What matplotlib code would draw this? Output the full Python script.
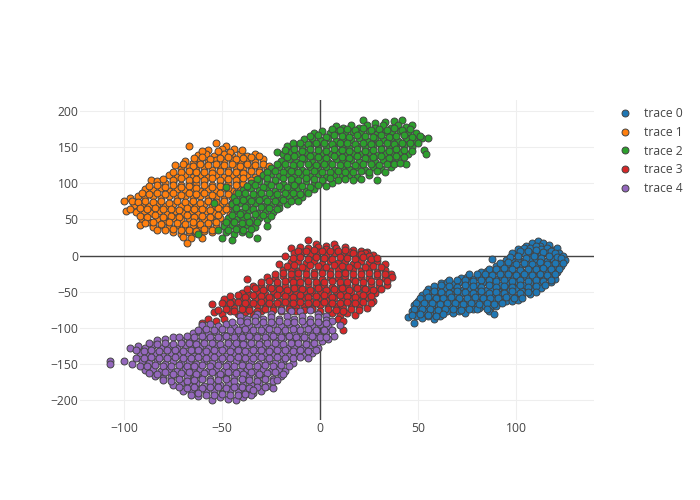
import numpy as np
import matplotlib
matplotlib.use("Agg")
import matplotlib.pyplot as plt

plt.rcParams['font.family'] = ['Open Sans', 'DejaVu Sans']

labels = ["trace 0", "trace 1", "trace 2", "trace 3", "trace 4"]
colors = ["#1f77b4", "#ff7f0e", "#2ca02c", "#d62728", "#9467bd"]
x_ticks = [-100, -50, 0, 50, 100]
y_ticks = [-200, -150, -100, -50, 0, 50, 100, 150, 200]

trace0 = [
    (108,17),(111,20),(114,18),(117,15),(105,14),(112,14),
    (101,9),(104,10),(107,11),(110,13),(113,9),(116,11),(119,8),(121,10),
    (98,3),(101,1),(104,4),(107,2),(110,5),(113,1),(116,3),(119,1),(122,4),(124,0),
    (88,-4),(95,-6),(98,-8),(101,-5),(104,-7),(107,-4),(110,-8),(113,-5),(116,-7),(119,-5),(122,-7),(125,-6),
    (90,-14),(93,-12),(96,-15),(99,-13),(102,-16),(105,-12),(108,-15),(111,-13),(114,-16),(117,-13),(120,-15),(123,-14),
    (82,-23),(85,-21),(88,-24),(91,-21),(94,-23),(97,-20),(100,-24),(103,-22),(106,-25),(109,-21),(112,-24),(115,-22),(118,-24),(121,-22),
    (72,-31),(75,-29),(78,-32),(81,-29),(84,-31),(87,-28),(90,-32),(93,-30),(96,-33),(99,-29),(102,-32),(105,-30),(108,-33),(111,-29),(114,-32),(117,-30),(120,-32),
    (62,-38),(65,-36),(68,-39),(71,-36),(74,-39),(77,-37),(80,-40),(83,-36),(86,-39),(89,-37),(92,-40),(95,-38),(98,-41),(101,-37),(104,-40),(107,-38),(110,-41),(113,-38),(118,-37),
    (55,-46),(58,-44),(61,-47),(64,-44),(67,-47),(70,-45),(73,-48),(76,-44),(79,-47),(82,-45),(85,-48),(88,-46),(91,-49),(94,-45),(97,-48),(100,-46),(103,-49),(106,-46),(109,-48),(113,-45),
    (52,-54),(55,-52),(58,-55),(61,-52),(64,-55),(67,-53),(70,-56),(73,-52),(76,-55),(79,-53),(82,-56),(85,-54),(88,-57),(91,-53),(94,-56),(97,-54),(100,-57),(103,-54),(107,-53),
    (50,-62),(53,-60),(56,-63),(59,-60),(62,-63),(65,-61),(68,-64),(71,-60),(74,-63),(77,-61),(80,-64),(83,-62),(86,-65),(89,-61),(92,-64),(95,-62),(98,-63),(101,-61),
    (48,-68),(51,-70),(54,-68),(57,-71),(60,-68),(63,-71),(66,-69),(69,-72),(72,-68),(75,-71),(78,-69),(81,-72),(84,-70),(87,-72),(90,-69),
    (47,-77),(50,-79),(53,-76),(56,-79),(59,-77),(62,-80),(65,-77),(68,-79),(71,-76),(74,-79),(78,-73),(80,-74),(86,-77),(89,-80),
    (45,-85),(49,-84),(52,-86),(55,-83),(58,-88),(61,-84),(48,-93),
    # second pass, filling the gaps between the first rows
    (102,6),(106,7),(110,8),(114,5),(118,6),(120,4),
    (97,-2),(101,-1),(105,-3),(109,-1),(113,-3),(117,-1),(121,-2),(123,-3),
    (92,-10),(96,-9),(100,-11),(104,-10),(108,-11),(112,-9),(116,-11),(120,-10),(124,-10),
    (86,-18),(90,-19),(94,-17),(98,-18),(102,-20),(106,-18),(110,-19),(114,-17),(118,-19),(122,-18),
    (76,-26),(80,-25),(84,-26),(88,-27),(92,-25),(96,-26),(100,-27),(104,-25),(108,-27),(112,-26),(116,-27),(120,-26),
    (66,-34),(70,-33),(74,-34),(78,-35),(82,-33),(86,-34),(90,-35),(94,-33),(98,-35),(102,-34),(106,-35),(110,-33),(114,-35),(118,-34),
    (58,-42),(62,-41),(66,-42),(70,-43),(74,-41),(78,-42),(82,-43),(86,-41),(90,-43),(94,-42),(98,-43),(102,-41),(106,-43),(110,-42),(115,-41),
    (54,-50),(58,-49),(62,-50),(66,-51),(70,-49),(74,-50),(78,-51),(82,-49),(86,-51),(90,-50),(94,-51),(98,-49),(102,-51),(106,-50),(110,-50),
    (51,-58),(55,-57),(59,-58),(63,-59),(67,-57),(71,-58),(75,-59),(79,-57),(83,-59),(87,-58),(91,-59),(95,-57),(99,-59),(103,-58),
    (49,-66),(53,-65),(57,-66),(61,-67),(65,-65),(69,-66),(73,-67),(77,-65),(81,-67),(85,-66),(89,-67),(93,-65),
    (48,-74),(52,-73),(56,-74),(60,-75),(64,-73),(68,-74),(72,-75),(76,-74),(85,-74),
    (47,-82),(51,-81),(55,-82),(59,-83),(63,-81),
]

trace1 = [
    (-53,155),(-48,152),(-67,151),(-50,147),(-44,148),(-57,146),
    (-62,139),(-58,141),(-54,138),(-49,141),(-45,138),(-41,141),(-37,138),(-33,141),
    (-69,131),(-65,128),(-61,132),(-57,129),(-53,132),(-49,129),(-45,132),(-41,128),(-37,131),(-33,129),(-29,133),
    (-74,125),(-71,120),(-67,122),(-63,119),(-59,122),(-55,119),(-51,122),(-47,119),(-43,123),(-39,120),(-35,122),(-31,119),(-27,121),(-24,118),
    (-77,111),(-73,109),(-69,112),(-65,108),(-61,111),(-57,109),(-53,112),(-49,108),(-45,111),(-41,109),(-37,112),(-33,108),(-29,111),
    (-86,104),(-83,103),(-79,100),(-75,102),(-71,98),(-67,101),(-63,99),(-59,102),(-55,98),(-51,101),(-47,99),(-43,102),(-39,99),(-35,101),
    (-89,92),(-85,90),(-81,93),(-77,89),(-73,92),(-69,90),(-65,93),(-61,89),(-57,92),(-53,90),(-49,93),(-45,89),(-41,91),
    (-97,79),(-93,82),(-89,79),(-85,82),(-81,79),(-77,82),(-73,79),(-69,83),(-65,80),(-61,82),(-57,79),(-53,81),(-49,78),(-45,81),
    (-100,76),(-99,62),(-95,70),(-91,72),(-87,69),(-83,72),(-79,68),(-75,71),(-71,69),(-67,72),(-63,68),(-59,71),(-55,69),(-51,72),(-47,68),(-43,70),
    (-94,60),(-90,62),(-86,59),(-82,62),(-78,58),(-74,61),(-70,59),(-66,62),(-62,58),(-58,61),(-54,59),(-50,62),(-46,58),
    (-91,50),(-87,47),(-83,51),(-79,48),(-75,52),(-71,49),(-67,52),(-63,48),(-59,51),(-55,49),(-51,52),(-47,48),
    (-92,42),(-85,40),(-81,43),(-77,39),(-73,42),(-69,40),(-65,43),(-61,39),(-57,42),(-53,40),
    (-75,32),(-71,30),(-67,33),(-63,31),(-59,34),(-55,32),(-70,26),(-66,24),(-68,18),(-60,25),
    # second pass
    (-60,145),(-52,144),(-46,143),(-40,146),
    (-64,135),(-60,136),(-56,134),(-51,135),(-47,136),(-43,134),(-39,135),(-35,136),(-31,137),
    (-70,126),(-65,124),(-61,126),(-57,125),(-53,127),(-49,125),(-45,126),(-41,124),(-37,126),(-33,125),(-29,126),(-26,124),
    (-75,116),(-71,115),(-67,117),(-63,115),(-59,116),(-55,114),(-51,117),(-47,115),(-43,116),(-39,114),(-35,117),(-31,115),(-27,116),
    (-80,106),(-75,105),(-71,107),(-67,105),(-63,106),(-59,104),(-55,107),(-51,105),(-47,106),(-43,104),(-39,107),(-35,105),(-31,106),
    (-87,96),(-83,97),(-79,95),(-75,97),(-71,95),(-67,96),(-63,94),(-59,97),(-55,95),(-51,96),(-47,94),(-43,97),(-37,95),
    (-91,86),(-87,85),(-83,87),(-79,85),(-75,86),(-71,84),(-67,87),(-63,85),(-59,86),(-55,84),(-51,87),(-47,85),(-43,86),
    (-96,75),(-93,74),(-89,76),(-85,74),(-81,75),(-77,73),(-73,76),(-69,74),(-65,75),(-61,73),(-57,76),(-53,74),(-49,75),(-45,73),
    (-97,65),(-92,66),(-88,64),(-84,66),(-80,64),(-76,65),(-72,63),(-68,66),(-64,64),(-60,65),(-56,63),(-52,66),(-48,64),
    (-92,55),(-88,54),(-84,56),(-80,54),(-76,55),(-72,53),(-68,56),(-64,54),(-60,55),(-56,53),(-52,56),
    (-89,45),(-85,46),(-81,44),(-77,46),(-73,45),(-69,44),(-65,46),(-61,44),(-57,45),(-53,46),(-49,44),
    (-83,36),(-79,35),(-75,37),(-71,35),(-67,36),(-63,34),(-59,37),(-55,35),
]

trace2 = [
    (22,188),(38,186),(42,187),(33,185),(28,183),
    (8,179),(12,176),(16,180),(20,177),(24,181),(28,177),(32,180),(36,177),(40,181),(44,178),(47,180),
    (-3,170),(1,172),(5,169),(9,172),(13,168),(17,171),(21,169),(25,172),(29,168),(33,171),(37,169),(41,172),(45,168),(49,170),
    (-8,161),(-4,163),(0,160),(4,163),(8,159),(12,162),(16,160),(20,163),(24,159),(28,162),(32,160),(36,163),(40,159),(44,162),(48,160),(52,162),(55,163),
    (-17,151),(-13,153),(-9,150),(-5,153),(-1,149),(3,152),(7,150),(11,153),(15,149),(19,152),(23,150),(27,153),(31,149),(35,152),(39,150),(43,153),(47,150),
    (-22,143),(-19,140),(-15,143),(-11,140),(-7,143),(-3,139),(1,142),(5,140),(9,143),(13,139),(17,142),(21,140),(25,143),(29,139),(33,142),(37,140),(41,143),(45,140),(53,146),(54,140),
    (-20,131),(-16,133),(-12,130),(-8,133),(-4,129),(0,132),(4,130),(8,133),(12,129),(16,132),(20,130),(24,133),(28,129),(32,132),(36,130),(40,133),(44,126),
    (-25,121),(-21,123),(-17,120),(-13,123),(-9,119),(-5,122),(-1,120),(3,123),(7,119),(11,122),(15,120),(19,123),(23,119),(27,122),(31,120),(36,123),
    (-29,111),(-25,113),(-21,110),(-17,113),(-13,109),(-9,112),(-5,110),(-1,113),(3,109),(7,112),(11,110),(15,112),(19,108),(25,111),(29,105),
    (-35,101),(-31,103),(-27,100),(-23,103),(-19,99),(-15,102),(-11,100),(-7,103),(-3,99),(1,102),(6,101),(-48,95),
    (-39,91),(-35,93),(-31,90),(-27,93),(-23,89),(-19,92),(-15,90),(-11,93),(-7,89),(-3,92),
    (-44,81),(-40,83),(-36,80),(-32,83),(-28,79),(-24,82),(-20,80),(-16,83),(-12,79),(-9,81),
    (-45,71),(-41,73),(-37,70),(-33,73),(-29,69),(-25,72),(-21,70),(-17,72),(-54,73),
    (-44,62),(-40,60),(-36,63),(-32,59),(-28,62),(-24,60),(-21,66),
    (-47,52),(-43,50),(-39,53),(-35,49),(-31,52),(-27,50),
    (-49,41),(-45,43),(-41,40),(-37,43),(-33,40),(-27,41),(-52,35),
    (-48,32),(-44,30),(-40,33),(-36,30),(-50,24),(-45,22),(-32,25),(-62,30),
    # second pass
    (6,175),(10,174),(14,175),(18,173),(22,176),(26,174),(30,175),(34,173),(38,176),(42,174),(46,175),
    (-5,165),(-1,166),(3,164),(7,166),(11,165),(15,164),(19,166),(23,165),(27,164),(31,166),(35,164),(39,165),(43,166),(47,164),(51,165),
    (-14,155),(-10,156),(-6,154),(-2,156),(2,155),(6,154),(10,156),(14,155),(18,154),(22,156),(26,154),(30,155),(34,156),(38,154),(42,156),(46,155),(50,155),
    (-18,146),(-13,147),(-9,145),(-5,147),(-1,146),(3,145),(7,147),(11,146),(15,145),(19,147),(23,145),(27,146),(31,147),(35,145),(39,147),(43,146),(47,145),
    (-17,136),(-13,137),(-9,135),(-5,137),(-1,136),(3,135),(7,137),(11,136),(15,135),(19,137),(23,135),(27,136),(31,137),(35,135),(39,137),(43,136),
    (-22,126),(-18,127),(-14,125),(-10,127),(-6,126),(-2,125),(2,127),(6,126),(10,125),(14,127),(18,125),(22,126),(26,127),(30,125),(34,127),(38,126),(41,128),
    (-27,116),(-23,117),(-19,115),(-15,117),(-11,116),(-7,115),(-3,117),(1,116),(5,115),(9,117),(13,115),(17,116),(21,117),(25,115),(29,117),(33,116),
    (-32,106),(-27,107),(-23,105),(-19,107),(-15,106),(-11,105),(-7,107),(-3,106),(1,105),(5,107),(9,105),(13,106),(17,105),(21,106),
    (-37,96),(-33,97),(-29,95),(-25,97),(-21,96),(-17,95),(-13,97),(-9,96),(-5,95),(-1,97),(3,96),
    (-42,86),(-38,87),(-34,85),(-30,87),(-26,86),(-22,85),(-18,87),(-14,86),(-10,85),(-6,87),
    (-43,76),(-39,77),(-35,75),(-31,77),(-27,76),(-23,75),(-19,77),(-15,76),(-11,75),
    (-43,66),(-38,67),(-34,65),(-30,67),(-26,66),(-22,65),
    (-45,56),(-41,57),(-37,55),(-33,57),(-29,56),(-25,55),
    (-48,46),(-44,47),(-40,45),(-36,47),(-32,46),
    (-47,36),(-43,37),(-39,35),(-35,37),
]

trace3 = [
    (-6,21),(3,14),(-2,16),(7,16),(-10,12),(-15,10),(-6,10),(-1,12),(3,9),(8,11),(13,12),(17,8),(21,7),(24,5),
    (-13,3),(-9,5),(-5,2),(-1,5),(3,1),(7,4),(11,2),(15,5),(19,1),(23,3),(27,1),(-18,-1),
    (-15,-9),(-11,-7),(-7,-10),(-3,-7),(1,-11),(5,-8),(9,-10),(13,-7),(17,-11),(21,-8),(25,-10),(29,-7),(-21,-11),(33,-12),
    (-19,-20),(-15,-18),(-11,-21),(-7,-18),(-3,-22),(1,-19),(5,-21),(9,-18),(13,-22),(17,-19),(21,-21),(25,-18),(29,-22),(33,-20),(36,-25),
    (-37,-32),(-27,-29),(-23,-31),(-19,-28),(-15,-32),(-11,-29),(-7,-31),(-3,-28),(1,-32),(5,-29),(9,-31),(13,-28),(17,-32),(21,-29),(25,-31),(29,-28),(33,-31),(37,-30),
    (-34,-42),(-30,-40),(-26,-43),(-22,-39),(-18,-42),(-14,-40),(-10,-43),(-6,-39),(-2,-42),(2,-40),(6,-43),(10,-39),(14,-42),(18,-40),(22,-43),(26,-39),(30,-42),(34,-41),
    (-40,-51),(-36,-53),(-32,-50),(-28,-53),(-24,-49),(-20,-52),(-16,-50),(-12,-53),(-8,-49),(-4,-52),(0,-50),(4,-53),(8,-49),(12,-52),(16,-50),(20,-53),(24,-49),(28,-52),
    (-49,-60),(-45,-62),(-41,-59),(-37,-62),(-33,-58),(-29,-61),(-25,-59),(-21,-62),(-17,-58),(-13,-61),(-9,-59),(-5,-62),(-1,-58),(3,-61),(7,-59),(11,-62),(15,-58),(19,-61),(23,-59),(27,-62),
    (-55,-67),(-48,-70),(-44,-72),(-40,-69),(-36,-72),(-32,-68),(-28,-71),(-24,-69),(-20,-72),(-16,-68),(-12,-71),(-8,-69),(-4,-72),(0,-68),(4,-71),(8,-69),(12,-72),(16,-68),(20,-71),(24,-72),
    (-54,-78),(-50,-80),(-46,-77),(-42,-80),(-38,-78),(-34,-81),(-30,-77),(6,-79),(10,-82),(14,-79),(18,-82),
    (-57,-88),(-53,-90),(-49,-87),(-60,-93),(9,-88),(12,-90),(12,-102),
    # second pass
    (-11,7),(-7,6),(-3,8),(1,6),(5,7),(9,6),(13,8),(17,4),(21,2),(25,0),
    (-14,-3),(-10,-2),(-6,-4),(-2,-2),(2,-3),(6,-4),(10,-2),(14,-3),(18,-4),(22,-2),(26,-4),(29,-3),
    (-17,-14),(-13,-13),(-9,-15),(-5,-13),(-1,-14),(3,-15),(7,-13),(11,-14),(15,-15),(19,-13),(23,-15),(27,-14),(31,-15),
    (-23,-25),(-19,-24),(-15,-26),(-11,-24),(-7,-25),(-3,-26),(1,-24),(5,-25),(9,-26),(13,-24),(17,-26),(21,-25),(25,-24),(29,-26),(33,-25),
    (-30,-36),(-26,-35),(-22,-37),(-18,-35),(-14,-36),(-10,-37),(-6,-35),(-2,-36),(2,-37),(6,-35),(10,-37),(14,-36),(18,-35),(22,-37),(26,-35),(30,-36),(34,-35),
    (-37,-46),(-33,-45),(-29,-47),(-25,-45),(-21,-46),(-17,-47),(-13,-45),(-9,-46),(-5,-47),(-1,-45),(3,-47),(7,-46),(11,-45),(15,-47),(19,-45),(23,-46),(27,-47),(31,-46),
    (-46,-56),(-42,-55),(-38,-57),(-34,-55),(-30,-56),(-26,-57),(-22,-55),(-18,-56),(-14,-57),(-10,-55),(-6,-57),(-2,-56),(2,-55),(6,-57),(10,-55),(14,-56),(18,-57),(22,-55),(26,-56),
    (-50,-65),(-46,-66),(-42,-64),(-38,-66),(-34,-65),(-30,-64),(-26,-66),(-22,-65),(-18,-64),(-14,-66),(-10,-64),(-6,-65),(-2,-66),(2,-64),(6,-66),(10,-65),(14,-64),(18,-66),(22,-64),(26,-65),
    (-52,-75),(-48,-74),(-44,-76),(-40,-74),(-36,-75),(-32,-76),(-28,-74),(-24,-75),(-20,-76),(-16,-74),(-12,-76),(-8,-75),(-4,-74),(0,-76),(4,-74),(8,-75),(12,-76),(16,-74),(20,-75),
]

trace4 = [
    (-20,-75),(-15,-77),(-10,-76),(-5,-75),(-25,-80),(-32,-81),(-1,-80),(3,-84),
    (-41,-83),(-37,-87),(-33,-85),(-29,-88),(-25,-85),(-21,-88),(-17,-84),(-13,-87),(-9,-84),(-5,-88),(-1,-85),(3,-89),(6,-90),
    (-60,-96),(-56,-94),(-52,-97),(-48,-94),(-44,-98),(-40,-95),(-36,-97),(-32,-94),(-28,-98),(-24,-95),(-20,-97),(-16,-94),(-12,-98),(-8,-95),(-4,-97),(0,-94),(4,-97),(10,-96),
    (-65,-107),(-61,-105),(-57,-108),(-53,-105),(-49,-109),(-45,-106),(-41,-108),(-37,-105),(-33,-109),(-29,-106),(-25,-108),(-21,-105),(-17,-109),(-13,-106),(-9,-108),(-5,-105),(-1,-109),(3,-106),(7,-111),
    (-83,-117),(-79,-115),(-75,-113),(-71,-117),(-67,-114),(-63,-118),(-59,-115),(-55,-117),(-51,-114),(-47,-118),(-43,-115),(-39,-117),(-35,-114),(-31,-118),(-27,-115),(-23,-117),(-19,-114),(-15,-118),(-11,-115),(-7,-117),(-3,-114),(1,-118),(4,-115),
    (-97,-128),(-93,-125),(-89,-127),(-85,-124),(-81,-128),(-77,-125),(-73,-127),(-69,-124),(-65,-128),(-61,-125),(-57,-127),(-53,-124),(-49,-128),(-45,-125),(-41,-127),(-37,-124),(-33,-128),(-29,-125),(-25,-127),(-21,-124),(-17,-128),(-13,-125),(-9,-127),(-5,-124),(-1,-127),
    (-92,-134),(-88,-137),(-84,-135),(-80,-138),(-76,-134),(-72,-137),(-68,-135),(-64,-138),(-60,-134),(-56,-137),(-52,-135),(-48,-138),(-44,-134),(-40,-137),(-36,-135),(-32,-138),(-28,-134),(-24,-137),(-20,-135),(-16,-138),(-12,-134),(-8,-137),(-4,-135),
    (-107,-145),(-107,-149),(-100,-145),(-96,-149),(-91,-146),(-87,-148),(-83,-145),(-79,-149),(-75,-146),(-71,-148),(-67,-145),(-63,-149),(-59,-146),(-55,-148),(-51,-145),(-47,-149),(-43,-146),(-39,-148),(-35,-145),(-31,-149),(-27,-146),(-23,-148),(-19,-145),(-14,-148),
    (-89,-158),(-85,-156),(-81,-159),(-77,-156),(-73,-160),(-69,-157),(-65,-159),(-61,-156),(-57,-160),(-53,-157),(-49,-159),(-45,-156),(-41,-160),(-37,-157),(-33,-159),(-29,-156),(-25,-160),(-21,-157),(-18,-160),
    (-84,-166),(-80,-169),(-76,-167),(-72,-170),(-68,-166),(-64,-169),(-60,-167),(-56,-170),(-52,-166),(-48,-169),(-44,-167),(-40,-170),(-36,-166),(-32,-169),(-28,-167),(-24,-170),(-20,-166),
    (-75,-178),(-71,-176),(-67,-179),(-63,-176),(-59,-180),(-55,-177),(-51,-179),(-47,-176),(-43,-180),(-39,-177),(-35,-179),(-31,-176),(-27,-180),(-24,-183),
    (-70,-187),(-66,-189),(-62,-186),(-58,-189),(-54,-187),(-50,-190),(-46,-186),(-42,-189),(-38,-187),(-34,-190),(-30,-187),
    (-62,-194),(-55,-200),(-51,-195),(-47,-198),(-43,-200),(-39,-195),(-35,-193),
    # second pass
    (-45,-91),(-41,-90),(-37,-92),(-33,-90),(-29,-91),(-25,-92),(-21,-90),(-17,-91),(-13,-92),(-9,-90),(-5,-92),(-1,-91),(3,-93),
    (-62,-102),(-58,-101),(-54,-103),(-50,-101),(-46,-102),(-42,-103),(-38,-101),(-34,-102),(-30,-103),(-26,-101),(-22,-103),(-18,-102),(-14,-101),(-10,-103),(-6,-101),(-2,-102),(2,-103),(6,-102),
    (-72,-112),(-68,-111),(-64,-113),(-60,-111),(-56,-112),(-52,-113),(-48,-111),(-44,-112),(-40,-113),(-36,-111),(-32,-113),(-28,-112),(-24,-111),(-20,-113),(-16,-111),(-12,-112),(-8,-113),(-4,-111),(0,-113),(3,-112),
    (-87,-121),(-83,-122),(-79,-120),(-75,-122),(-71,-121),(-67,-120),(-63,-122),(-59,-121),(-55,-120),(-51,-122),(-47,-120),(-43,-121),(-39,-122),(-35,-120),(-31,-122),(-27,-121),(-23,-120),(-19,-122),(-15,-120),(-11,-121),(-7,-122),(-3,-120),
    (-94,-131),(-90,-132),(-86,-130),(-82,-132),(-78,-131),(-74,-130),(-70,-132),(-66,-131),(-62,-130),(-58,-132),(-54,-130),(-50,-131),(-46,-132),(-42,-130),(-38,-132),(-34,-131),(-30,-130),(-26,-132),(-22,-130),(-18,-131),(-14,-132),(-10,-130),(-6,-132),(-2,-130),
    (-94,-141),(-90,-142),(-86,-140),(-82,-142),(-78,-141),(-74,-140),(-70,-142),(-66,-141),(-62,-140),(-58,-142),(-54,-140),(-50,-141),(-46,-142),(-42,-140),(-38,-142),(-34,-141),(-30,-140),(-26,-142),(-22,-140),(-18,-141),(-14,-142),(-10,-140),(-6,-142),
    (-92,-152),(-88,-153),(-84,-151),(-80,-153),(-76,-152),(-72,-151),(-68,-153),(-64,-152),(-60,-151),(-56,-153),(-52,-151),(-48,-152),(-44,-153),(-40,-151),(-36,-153),(-32,-152),(-28,-151),(-24,-153),(-20,-151),(-16,-152),
    (-87,-162),(-83,-163),(-79,-161),(-75,-163),(-71,-162),(-67,-161),(-63,-163),(-59,-162),(-55,-161),(-51,-163),(-47,-161),(-43,-162),(-39,-163),(-35,-161),(-31,-163),(-27,-162),(-23,-161),(-19,-163),
    (-80,-172),(-76,-173),(-72,-171),(-68,-173),(-64,-172),(-60,-171),(-56,-173),(-52,-172),(-48,-171),(-44,-173),(-40,-171),(-36,-172),(-32,-173),(-28,-171),(-24,-173),(-22,-172),
    (-72,-182),(-68,-183),(-64,-181),(-60,-183),(-56,-182),(-52,-181),(-48,-183),(-44,-182),(-40,-181),(-36,-183),(-32,-181),(-28,-182),
    (-66,-192),(-62,-190),(-58,-193),(-54,-192),(-50,-191),(-46,-193),(-42,-192),(-38,-191),(-34,-186),
]

traces = [trace0, trace1, trace2, trace3, trace4]

fig = plt.figure(figsize=(7, 5), dpi=100)
ax = fig.add_axes([80/700, 1-420/500, 514/700, 320/500])

for pts, name, col in zip(traces, labels, colors):
    arr = np.array(pts)
    ax.scatter(arr[:, 0], arr[:, 1], s=25, c=col, edgecolors="#444444",
               linewidths=0.7, label=name, zorder=3)

ax.set_xlim(-122.4, 139.8)
ax.set_ylim(-227, 215)
ax.set_xticks(x_ticks)
ax.set_yticks(y_ticks)
ax.set_xticklabels([str(v).replace("-", "\u2212") for v in x_ticks])
ax.set_yticklabels([str(v).replace("-", "\u2212") for v in y_ticks])
ax.tick_params(length=0, labelsize=8.7, labelcolor="#444444")
ax.tick_params(axis="x", pad=1.5)
ax.tick_params(axis="y", pad=1)
ax.grid(True, color="#eeeeee", linewidth=0.75, zorder=0)
ax.set_axisbelow(True)
ax.axhline(0, color="#444444", linewidth=1, zorder=1)
ax.axvline(0, color="#444444", linewidth=1, zorder=1)
for s in ax.spines.values():
    s.set_visible(False)

ax.legend(loc="upper left", bbox_to_anchor=(613/700, 1-107/500), bbox_transform=fig.transFigure,
          frameon=False, fontsize=8.7, labelcolor="#444444", labelspacing=0.48,
          handletextpad=0.55, borderpad=0, borderaxespad=0, scatteryoffsets=[0.5])

plt.savefig("out.png", dpi=100)
plt.close()
